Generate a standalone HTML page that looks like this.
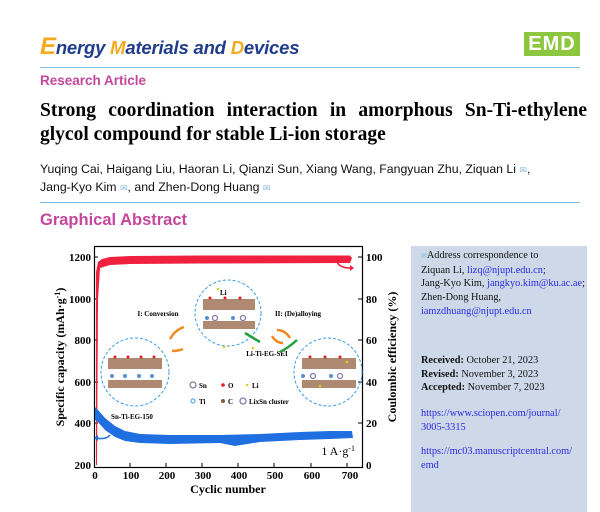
<!DOCTYPE html>
<html><head><meta charset="utf-8"><style>
body{margin:0;width:600px;height:512px;background:#fff;position:relative;overflow:hidden;font-family:"Liberation Sans",sans-serif}
.a{position:absolute;white-space:nowrap}
.ser{font-family:"Liberation Serif",serif}
.pink{color:#c4479c}
a,.lnk{color:#2a2ae0}
</style></head><body>
<div class="a" style="left:40px;top:33px;font-size:18.5px;font-weight:bold;font-style:italic;color:#1f3d8c;letter-spacing:-0.2px"><span style="color:#f2ab1e;font-size:24px">E</span>nergy <span style="color:#f2ab1e">M</span>aterials and <span style="color:#f2ab1e">D</span>evices</div>
<div class="a" style="left:524px;top:32px;width:56px;height:24px;background:#8dc63f;color:#fff;font-weight:bold;font-size:20px;line-height:24px;text-align:center;letter-spacing:1px">EMD</div>
<div class="a" style="left:40px;top:67px;width:540px;height:1px;background:#7fbfe4"></div>
<div class="a pink" style="left:40px;top:73px;font-size:13.5px;font-weight:bold">Research Article</div>
<div class="a ser" style="left:40px;top:99px;width:547px;font-size:19.5px;font-weight:bold;line-height:24px;white-space:normal;text-align:justify;text-align-last:left">Strong&nbsp; coordination&nbsp; interaction&nbsp; in&nbsp; amorphous&nbsp; Sn-Ti-ethylene glycol compound for stable Li-ion storage</div>
<div class="a" style="left:40px;top:161px;font-size:12.3px;line-height:17px;color:#111">Yuqing Cai, Haigang Liu, Haoran Li, Qianzi Sun, Xiang Wang, Fangyuan Zhu, Ziquan Li <span style="color:#7fb8e0;font-size:9px">✉</span>,<br>Jang-Kyo Kim <span style="color:#7fb8e0;font-size:9px">✉</span>, and Zhen-Dong Huang <span style="color:#7fb8e0;font-size:9px">✉</span></div>
<div class="a" style="left:40px;top:202px;width:540px;height:1px;background:#7fbfe4"></div>
<div class="a pink" style="left:40px;top:211px;font-size:16.5px;font-weight:bold">Graphical Abstract</div>

<div class="a" style="left:411px;top:246px;width:176px;height:266px;background:#cdd8e8"></div>
<div class="a ser" style="left:421px;top:249px;font-size:10.3px;line-height:13.7px;color:#111"><span style="color:#7fb8e0;font-size:7px">✉</span>Address correspondence to<br>Ziquan Li, <span class="lnk">lizq@njupt.edu.cn</span>;<br>Jang-Kyo Kim, <span class="lnk">jangkyo.kim@ku.ac.ae</span>;<br>Zhen-Dong Huang,<br><span class="lnk">iamzdhuang@njupt.edu.cn</span></div>
<div class="a ser" style="left:421px;top:354px;font-size:10.3px;line-height:13.7px;color:#111"><b>Received:</b> October 21, 2023<br><b>Revised:</b> November 3, 2023<br><b>Accepted:</b> November 7, 2023</div>
<div class="a ser lnk" style="left:421px;top:407px;font-size:10.3px;line-height:13.7px">https://www.sciopen.com/journal/<br>3005-3315</div>
<div class="a ser lnk" style="left:421px;top:445px;font-size:10.3px;line-height:13.7px">https://mc03.manuscriptcentral.com/<br>emd</div>

<svg class="a" style="left:0;top:0" width="600" height="512" viewBox="0 0 600 512" font-family="Liberation Serif,serif" font-weight="bold">
<rect x="94.5" y="246.5" width="268" height="221" fill="none" stroke="#000" stroke-width="1.2"/>
<g stroke="#000" stroke-width="1">
<line x1="94" y1="257" x2="98" y2="257"/><line x1="94" y1="299" x2="98" y2="299"/><line x1="94" y1="340" x2="98" y2="340"/><line x1="94" y1="382" x2="98" y2="382"/><line x1="94" y1="423" x2="98" y2="423"/>
<line x1="362" y1="257" x2="358" y2="257"/><line x1="362" y1="299" x2="358" y2="299"/><line x1="362" y1="340" x2="358" y2="340"/><line x1="362" y1="382" x2="358" y2="382"/><line x1="362" y1="423" x2="358" y2="423"/>
<line x1="130" y1="467" x2="130" y2="463"/><line x1="166" y1="467" x2="166" y2="463"/><line x1="202" y1="467" x2="202" y2="463"/><line x1="238" y1="467" x2="238" y2="463"/><line x1="274" y1="467" x2="274" y2="463"/><line x1="311" y1="467" x2="311" y2="463"/><line x1="347" y1="467" x2="347" y2="463"/>
</g>
<g font-size="11" text-anchor="end">
<text x="91" y="261">1200</text><text x="91" y="303">1000</text><text x="91" y="344">800</text><text x="91" y="386">600</text><text x="91" y="427">400</text><text x="91" y="469">200</text>
</g>
<g font-size="11" text-anchor="start">
<text x="366" y="261">100</text><text x="366" y="303">80</text><text x="366" y="344">60</text><text x="366" y="386">40</text><text x="366" y="427">20</text><text x="366" y="469">0</text>
</g>
<g font-size="11" text-anchor="middle">
<text x="95" y="479">0</text><text x="131" y="479">100</text><text x="167" y="479">200</text><text x="203" y="479">300</text><text x="239" y="479">400</text><text x="275" y="479">500</text><text x="312" y="479">600</text><text x="350" y="479">700</text>
</g>
<text x="228" y="493" font-size="12" text-anchor="middle">Cyclic number</text>
<text transform="translate(64,357) rotate(-90)" font-size="12" text-anchor="middle">Specific capacity (mAh·g<tspan font-size="8" dy="-4">-1</tspan><tspan dy="4">)</tspan></text>
<text transform="translate(396,357) rotate(-90)" font-size="12" text-anchor="middle">Coulombic efficiency (%)</text>
<text x="355" y="455" font-size="12" font-weight="normal" text-anchor="end">1 A·g<tspan font-size="8" dy="-4">-1</tspan></text>
<!-- red -->
<path d="M96,465 L96,272 L98,262 L102,259 L110,257 L130,256 L200,255.5 L350,255.5 L352,258 L350,263 L200,263.5 L130,264 L110,265 L100,268 L98,300 L97,465 Z" fill="#f0213f"/>
<!-- blue -->
<path d="M95,407 L98,410 L105,418 L115,426 L125,431 L140,434 L170,435 L220,435 L260,434 L300,432 L330,431 L352,431 L353,438 L330,439 L300,440 L260,442 L235,446 L220,443 L170,444 L140,443 L125,441 L115,437 L105,430 L98,422 L95,420 Z" fill="#1f6fe0"/>
<!-- arrows -->
<path d="M110,435 Q106,440 96,438" stroke="#1f6fe0" stroke-width="1.5" fill="none"/><path d="M94,438 l4,-3 l0,6z" fill="#1f6fe0"/>
<path d="M337,262 Q340,268 350,268" stroke="#f0213f" stroke-width="1.5" fill="none"/><path d="M354,268 l-4,-3 l0,6z" fill="#f0213f"/>
<!-- circles -->
<g fill="none" stroke="#3b9be0" stroke-width="1" stroke-dasharray="3,2">
<circle cx="135" cy="372" r="34"/><circle cx="228" cy="313" r="33"/><circle cx="328" cy="372" r="34"/>
</g>
<g>
<rect x="108" y="358" width="54" height="11" fill="#9b6b4d" opacity="0.8"/><rect x="108" y="380" width="54" height="8" fill="#9b6b4d" opacity="0.8"/>
<rect x="203" y="299" width="52" height="11" fill="#9b6b4d" opacity="0.8"/><rect x="203" y="321" width="52" height="8" fill="#9b6b4d" opacity="0.8"/>
<rect x="302" y="358" width="54" height="11" fill="#9b6b4d" opacity="0.8"/><rect x="302" y="380" width="54" height="8" fill="#9b6b4d" opacity="0.8"/>
<g fill="#e02020"><circle cx="115" cy="357" r="1.5"/><circle cx="128" cy="357" r="1.5"/><circle cx="141" cy="357" r="1.5"/><circle cx="154" cy="357" r="1.5"/><circle cx="210" cy="298" r="1.5"/><circle cx="225" cy="298" r="1.5"/><circle cx="240" cy="298" r="1.5"/><circle cx="310" cy="357" r="1.5"/><circle cx="325" cy="357" r="1.5"/><circle cx="340" cy="357" r="1.5"/></g>
<g fill="#5b8fd0"><circle cx="112" cy="376" r="2"/><circle cx="125" cy="376" r="2"/><circle cx="139" cy="376" r="2"/><circle cx="152" cy="376" r="2"/><circle cx="207" cy="318" r="2"/><circle cx="233" cy="318" r="2"/><circle cx="303" cy="376" r="2"/><circle cx="331" cy="376" r="2"/></g>
<g fill="none" stroke="#8a7aa8" stroke-width="1.3"><circle cx="215" cy="318" r="2.5"/><circle cx="243" cy="318" r="2.5"/><circle cx="313" cy="376" r="2.5"/><circle cx="340" cy="376" r="2.5"/><circle cx="193" cy="385" r="3"/><circle cx="243" cy="401" r="3"/></g>
<g fill="#d8d020"><circle cx="218" cy="289" r="1.3"/><circle cx="224" cy="347" r="1.3"/><circle cx="253" cy="348" r="1.3"/><circle cx="247" cy="385" r="1.3"/><circle cx="347" cy="362" r="1.3"/><circle cx="320" cy="386" r="1.3"/></g>
<circle cx="223" cy="385" r="1.8" fill="#e02020"/><circle cx="193" cy="401" r="2" fill="none" stroke="#3b9be0"/><circle cx="223" cy="401" r="2" fill="#8a5a3a"/>
</g>
<g font-size="7">
<text x="158" y="316" text-anchor="middle">I: Conversion</text>
<text x="298" y="316" text-anchor="middle">II: (De)alloying</text>
<text x="267" y="356" text-anchor="middle">Li-Ti-EG-SEI</text>
<text x="132" y="419" text-anchor="middle">Sn-Ti-EG-150</text>
<text x="220" y="295">Li</text>
<text x="199" y="388">Sn</text><text x="228" y="388">O</text><text x="252" y="388">Li</text>
<text x="199" y="404">Ti</text><text x="228" y="404">C</text><text x="249" y="404">LixSn cluster</text>
</g>
<g fill="none" stroke-width="2.5">
<path d="M170,339 Q175,330 184,327" stroke="#f28a22"/><path d="M183,349 Q178,351 172,351" stroke="#f28a22"/>
<path d="M280,352 Q288,348 297,340" stroke="#22a03a"/><path d="M245,333 L260,342" stroke="#22a03a"/>
<path d="M277,330 Q285,330 290,338" stroke="#f28a22"/><path d="M283,343 Q276,343 272,336" stroke="#f28a22"/>
</g>
</svg>
</body></html>
